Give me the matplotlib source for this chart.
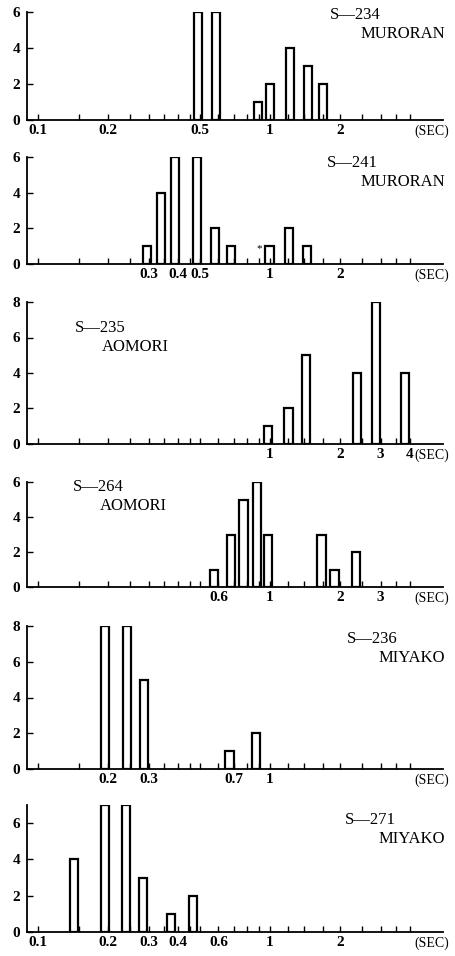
import matplotlib
matplotlib.use("Agg")
import matplotlib.pyplot as plt
import numpy as np

plt.rcParams["font.family"] = ["Liberation Serif", "DejaVu Serif"]

# period (sec) of each histogram bin and its count, one set per record
p234 = [0.49, 0.585, 0.89, 1.0, 1.22, 1.46, 1.69]
n234 = [6, 6, 1, 2, 4, 3, 2]
p241 = [0.295, 0.339, 0.39, 0.485, 0.58, 0.68, 0.995, 1.21, 1.44]
n241 = [1, 4, 6, 6, 2, 1, 1, 2, 1]
p235 = [0.98, 1.2, 1.43, 2.37, 2.86, 3.82]
n235 = [1, 2, 5, 4, 8, 4]
p264 = [0.574, 0.68, 0.77, 0.88, 0.98, 1.67, 1.9, 2.35]
n264 = [1, 3, 5, 6, 3, 3, 1, 2]
p236 = [0.195, 0.242, 0.286, 0.67, 0.87]
n236 = [8, 8, 5, 1, 2]
p271 = [0.143, 0.195, 0.24, 0.284, 0.374, 0.466]
n271 = [4, 7, 7, 3, 1, 2]

labels234 = ["0.1", "0.2", "0.5", "1", "2"]
labels241 = ["0.3", "0.4", "0.5", "1", "2"]
labels235 = ["1", "2", "3", "4"]
labels264 = ["0.6", "1", "2", "3"]
labels236 = ["0.2", "0.3", "0.7", "1"]
labels271 = ["0.1", "0.2", "0.3", "0.4", "0.6", "1", "2"]

minor = [0.1, 0.15, 0.2, 0.25, 0.3, 0.35, 0.4, 0.45, 0.5, 0.6, 0.7, 0.8, 0.9,
         1, 1.2, 1.4, 1.7, 2, 2.5, 3, 3.5, 4]

W, H = 455, 956
HALF = 0.018  # half bar width in decades

# (periods, counts, xlabels, ymax, yticks, axis top px, axis bottom px,
#  record id, station, side, text x px, line1 y px, line2 y px)
panels = [
    (p234, n234, labels234, 6, [0, 2, 4, 6], 12, 120, "S\u2014234", "MURORAN", "right", 330, 15, 34),
    (p241, n241, labels241, 6, [0, 2, 4, 6], 157, 264, "S\u2014241", "MURORAN", "right", 327, 163, 182),
    (p235, n235, labels235, 8, [0, 2, 4, 6, 8], 302, 444, "S\u2014235", "AOMORI", "left", 75, 328, 347),
    (p264, n264, labels264, 6, [0, 2, 4, 6], 482, 587, "S\u2014264", "AOMORI", "left", 73, 487, 506),
    (p236, n236, labels236, 8, [0, 2, 4, 6, 8], 626, 769, "S\u2014236", "MIYAKO", "right", 347, 639, 658),
    (p271, n271, labels271, 7, [0, 2, 4, 6], 805, 932, "S\u2014271", "MIYAKO", "right", 345, 820, 839),
]

fig = plt.figure(figsize=(W / 100, H / 100), dpi=100)
x0, x1 = 27, 443

for (per, cnt, xl, ymax, yt, top, bot, sid, name, side, tx, ty1, ty2) in panels:
    ax = fig.add_axes([x0 / W, 1 - bot / H, (x1 - x0) / W, (bot - top) / H])
    per = np.array(per)
    left = per * 10 ** (-HALF)
    width = per * (10 ** HALF - 10 ** (-HALF))
    ax.bar(left, cnt, width=width, align="edge", facecolor="white",
           edgecolor="black", linewidth=1.6)
    ax.set_xscale("log")
    ax.set_xlim(0.0897, 5.57)
    ax.set_ylim(0, ymax)
    for s in ("top", "right"):
        ax.spines[s].set_visible(False)
    for s in ("left", "bottom"):
        ax.spines[s].set_linewidth(1.3)
    ax.set_yticks(yt)
    ax.set_yticklabels([str(v) for v in yt], fontsize=11, fontweight="bold")
    ax.set_xticks([float(v) for v in xl])
    ax.set_xticklabels(xl, fontsize=11, fontweight="bold")
    ax.set_xticks(minor, minor=True)
    ax.xaxis.set_minor_formatter(plt.NullFormatter())
    ax.tick_params(axis="x", which="both", direction="in", length=4, width=1, pad=3)
    ax.tick_params(axis="y", direction="in", length=4, width=1, pad=5)
    ax.annotate("(SEC)", xy=(1, 0), xycoords="axes fraction", xytext=(4.5, -3),
                textcoords="offset points", ha="right", va="top", fontsize=10)
    fig.text(tx / W, 1 - ty1 / H, sid, fontsize=12, va="center", ha="left")
    if side == "right":
        fig.text(445 / W, 1 - ty2 / H, name, fontsize=12, va="center", ha="right")
    else:
        fig.text((tx + 27) / W, 1 - ty2 / H, name, fontsize=12, va="center", ha="left")
    if sid.endswith("241"):
        ax.text(0.9, 0.85, "*", fontsize=8, ha="center", va="center")

fig.savefig("out.png", dpi=100)
